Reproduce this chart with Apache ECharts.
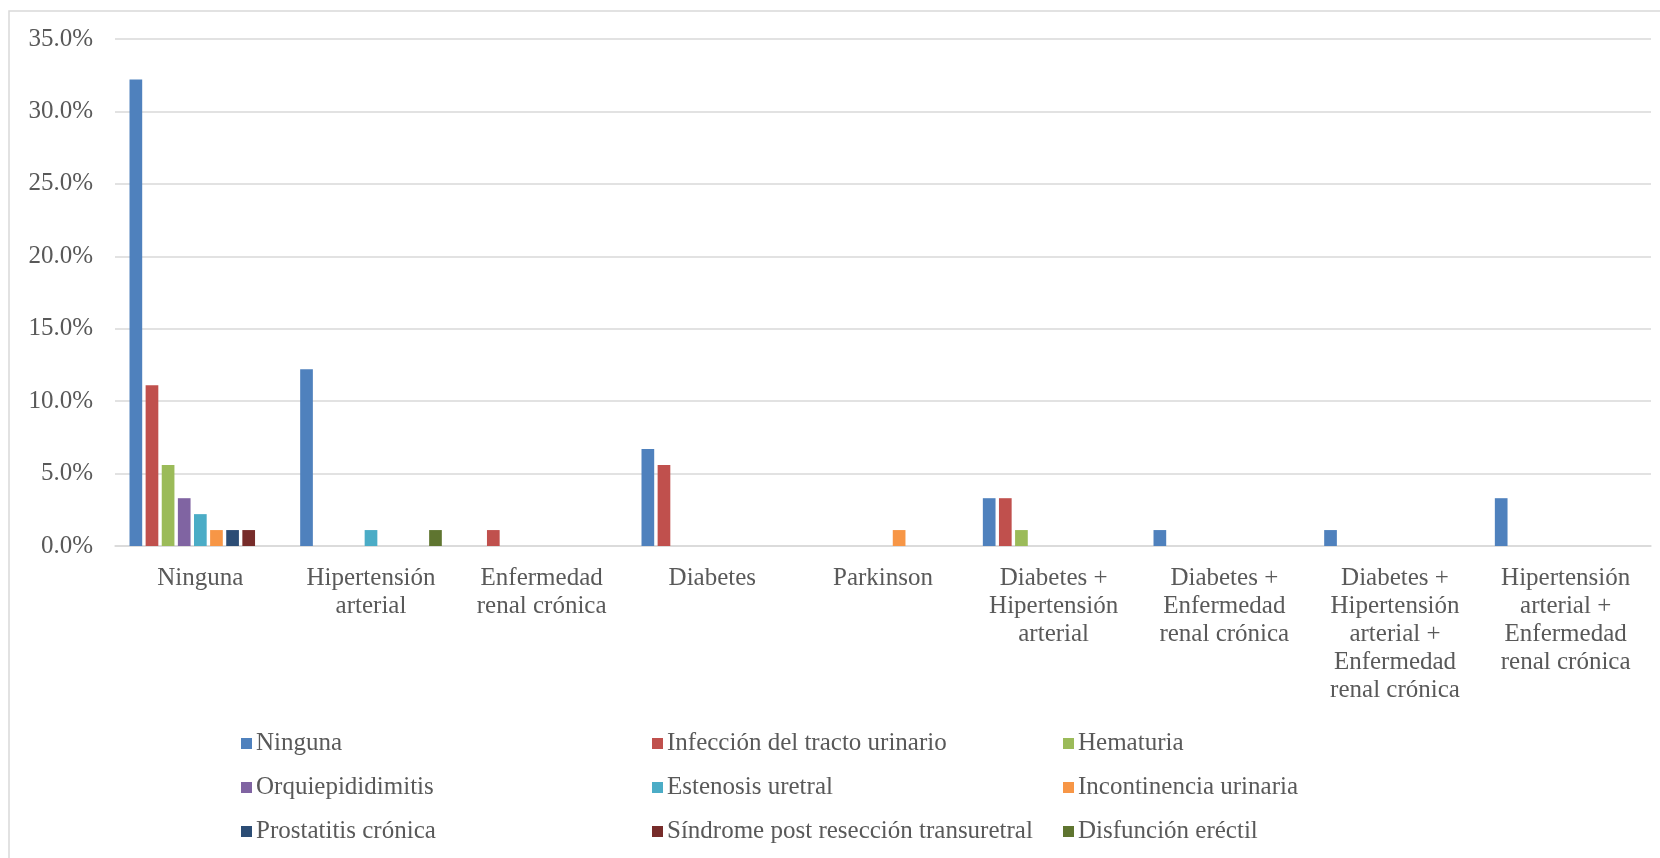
<!DOCTYPE html>
<html>
<head>
<meta charset="utf-8">
<script src="https://cdn.jsdelivr.net/npm/echarts@6/dist/echarts.min.js"></script>
<style>
  html, body { margin: 0; padding: 0; background: #ffffff; }
  #chart { width: 1660px; height: 858px; }
</style>
</head>
<body>
<div id="chart"></div>
<script>
// Comorbilidades (eje X) y complicaciones (series), en porcentaje
const categories = [
  'Ninguna',
  'Hipertensión\narterial',
  'Enfermedad\nrenal crónica',
  'Diabetes',
  'Parkinson',
  'Diabetes +\nHipertensión\narterial',
  'Diabetes +\nEnfermedad\nrenal crónica',
  'Diabetes +\nHipertensión\narterial +\nEnfermedad\nrenal crónica',
  'Hipertensión\narterial +\nEnfermedad\nrenal crónica'
];

const seriesNames = [
  'Ninguna',
  'Infección del tracto urinario',
  'Hematuria',
  'Orquiepididimitis',
  'Estenosis uretral',
  'Incontinencia urinaria',
  'Prostatitis crónica',
  'Síndrome post resección transuretral',
  'Disfunción eréctil'
];

const ninguna          = [32.2, 12.2, 0,   6.7, 0,   3.3, 1.1, 1.1, 3.3];
const infeccion        = [11.1, 0,    1.1, 5.6, 0,   3.3, 0,   0,   0];
const hematuria        = [5.6,  0,    0,   0,   0,   1.1, 0,   0,   0];
const orquiepididimitis= [3.3,  0,    0,   0,   0,   0,   0,   0,   0];
const estenosis        = [2.2,  1.1,  0,   0,   0,   0,   0,   0,   0];
const incontinencia    = [1.1,  0,    0,   0,   1.1, 0,   0,   0,   0];
const prostatitis      = [1.1,  0,    0,   0,   0,   0,   0,   0,   0];
const sindromeRTU      = [1.1,  0,    0,   0,   0,   0,   0,   0,   0];
const disfuncion       = [0,    1.1,  0,   0,   0,   0,   0,   0,   0];

const yTicks = { min: 0, max: 35, interval: 5 };

const seriesValues = [ninguna, infeccion, hematuria, orquiepididimitis, estenosis,
  incontinencia, prostatitis, sindromeRTU, disfuncion];

const colors = ['#4F81BD', '#C0504D', '#9BBB59', '#8064A2', '#4BACC6',
  '#F79646', '#2C4D75', '#772C2A', '#5F7530'];

const FONT = '"Liberation Serif", "DejaVu Serif", serif';
const FONT_SIZE = 25;
const TEXT = '#595959';
const GRID = '#d9d9d9';

const chart = echarts.init(document.getElementById('chart'), null, { renderer: 'canvas' });

function legendColumn(col, left) {
  return {
    orient: 'vertical',
    left: left,
    top: 731,
    padding: 0,
    itemWidth: 11,
    itemHeight: 11,
    itemGap: 19,
    icon: 'rect',
    selectedMode: false,
    textStyle: { fontFamily: FONT, fontSize: FONT_SIZE, lineHeight: 24, color: TEXT, padding: [0, 0, 0, -1] },
    data: seriesNames.filter((_, i) => i % 3 === col)
  };
}

chart.setOption({
  animation: false,
  color: colors,
  textStyle: { fontFamily: FONT },
  graphic: [{
    type: 'rect',
    shape: { x: 9, y: 11, width: 1700, height: 900 },
    style: { fill: 'none', stroke: GRID, lineWidth: 1.5 },
    silent: true
  }],
  grid: { left: 115, right: 9, top: 39, bottom: 312, containLabel: false },
  legend: [legendColumn(0, 241), legendColumn(1, 652), legendColumn(2, 1063)],
  xAxis: {
    type: 'category',
    data: categories,
    axisTick: { show: false },
    axisLine: { lineStyle: { color: GRID, width: 1.5 } },
    axisLabel: {
      interval: 0,
      margin: 18,
      fontFamily: FONT,
      fontSize: FONT_SIZE,
      lineHeight: 28,
      color: TEXT,
      align: 'center'
    }
  },
  yAxis: {
    type: 'value',
    min: yTicks.min,
    max: yTicks.max,
    interval: yTicks.interval,
    axisLine: { show: false },
    axisTick: { show: false },
    splitLine: { lineStyle: { color: GRID, width: 1.5 } },
    axisLabel: {
      margin: 22,
      fontFamily: FONT,
      fontSize: FONT_SIZE,
      color: TEXT,
      formatter: v => v.toFixed(1) + '%'
    }
  },
  series: seriesNames.map((name, i) => ({
    name: name,
    type: 'bar',
    data: seriesValues[i],
    barCategoryGap: '17%',
    barGap: '27%',
    itemStyle: { color: colors[i] }
  }))
});
</script>
</body>
</html>
